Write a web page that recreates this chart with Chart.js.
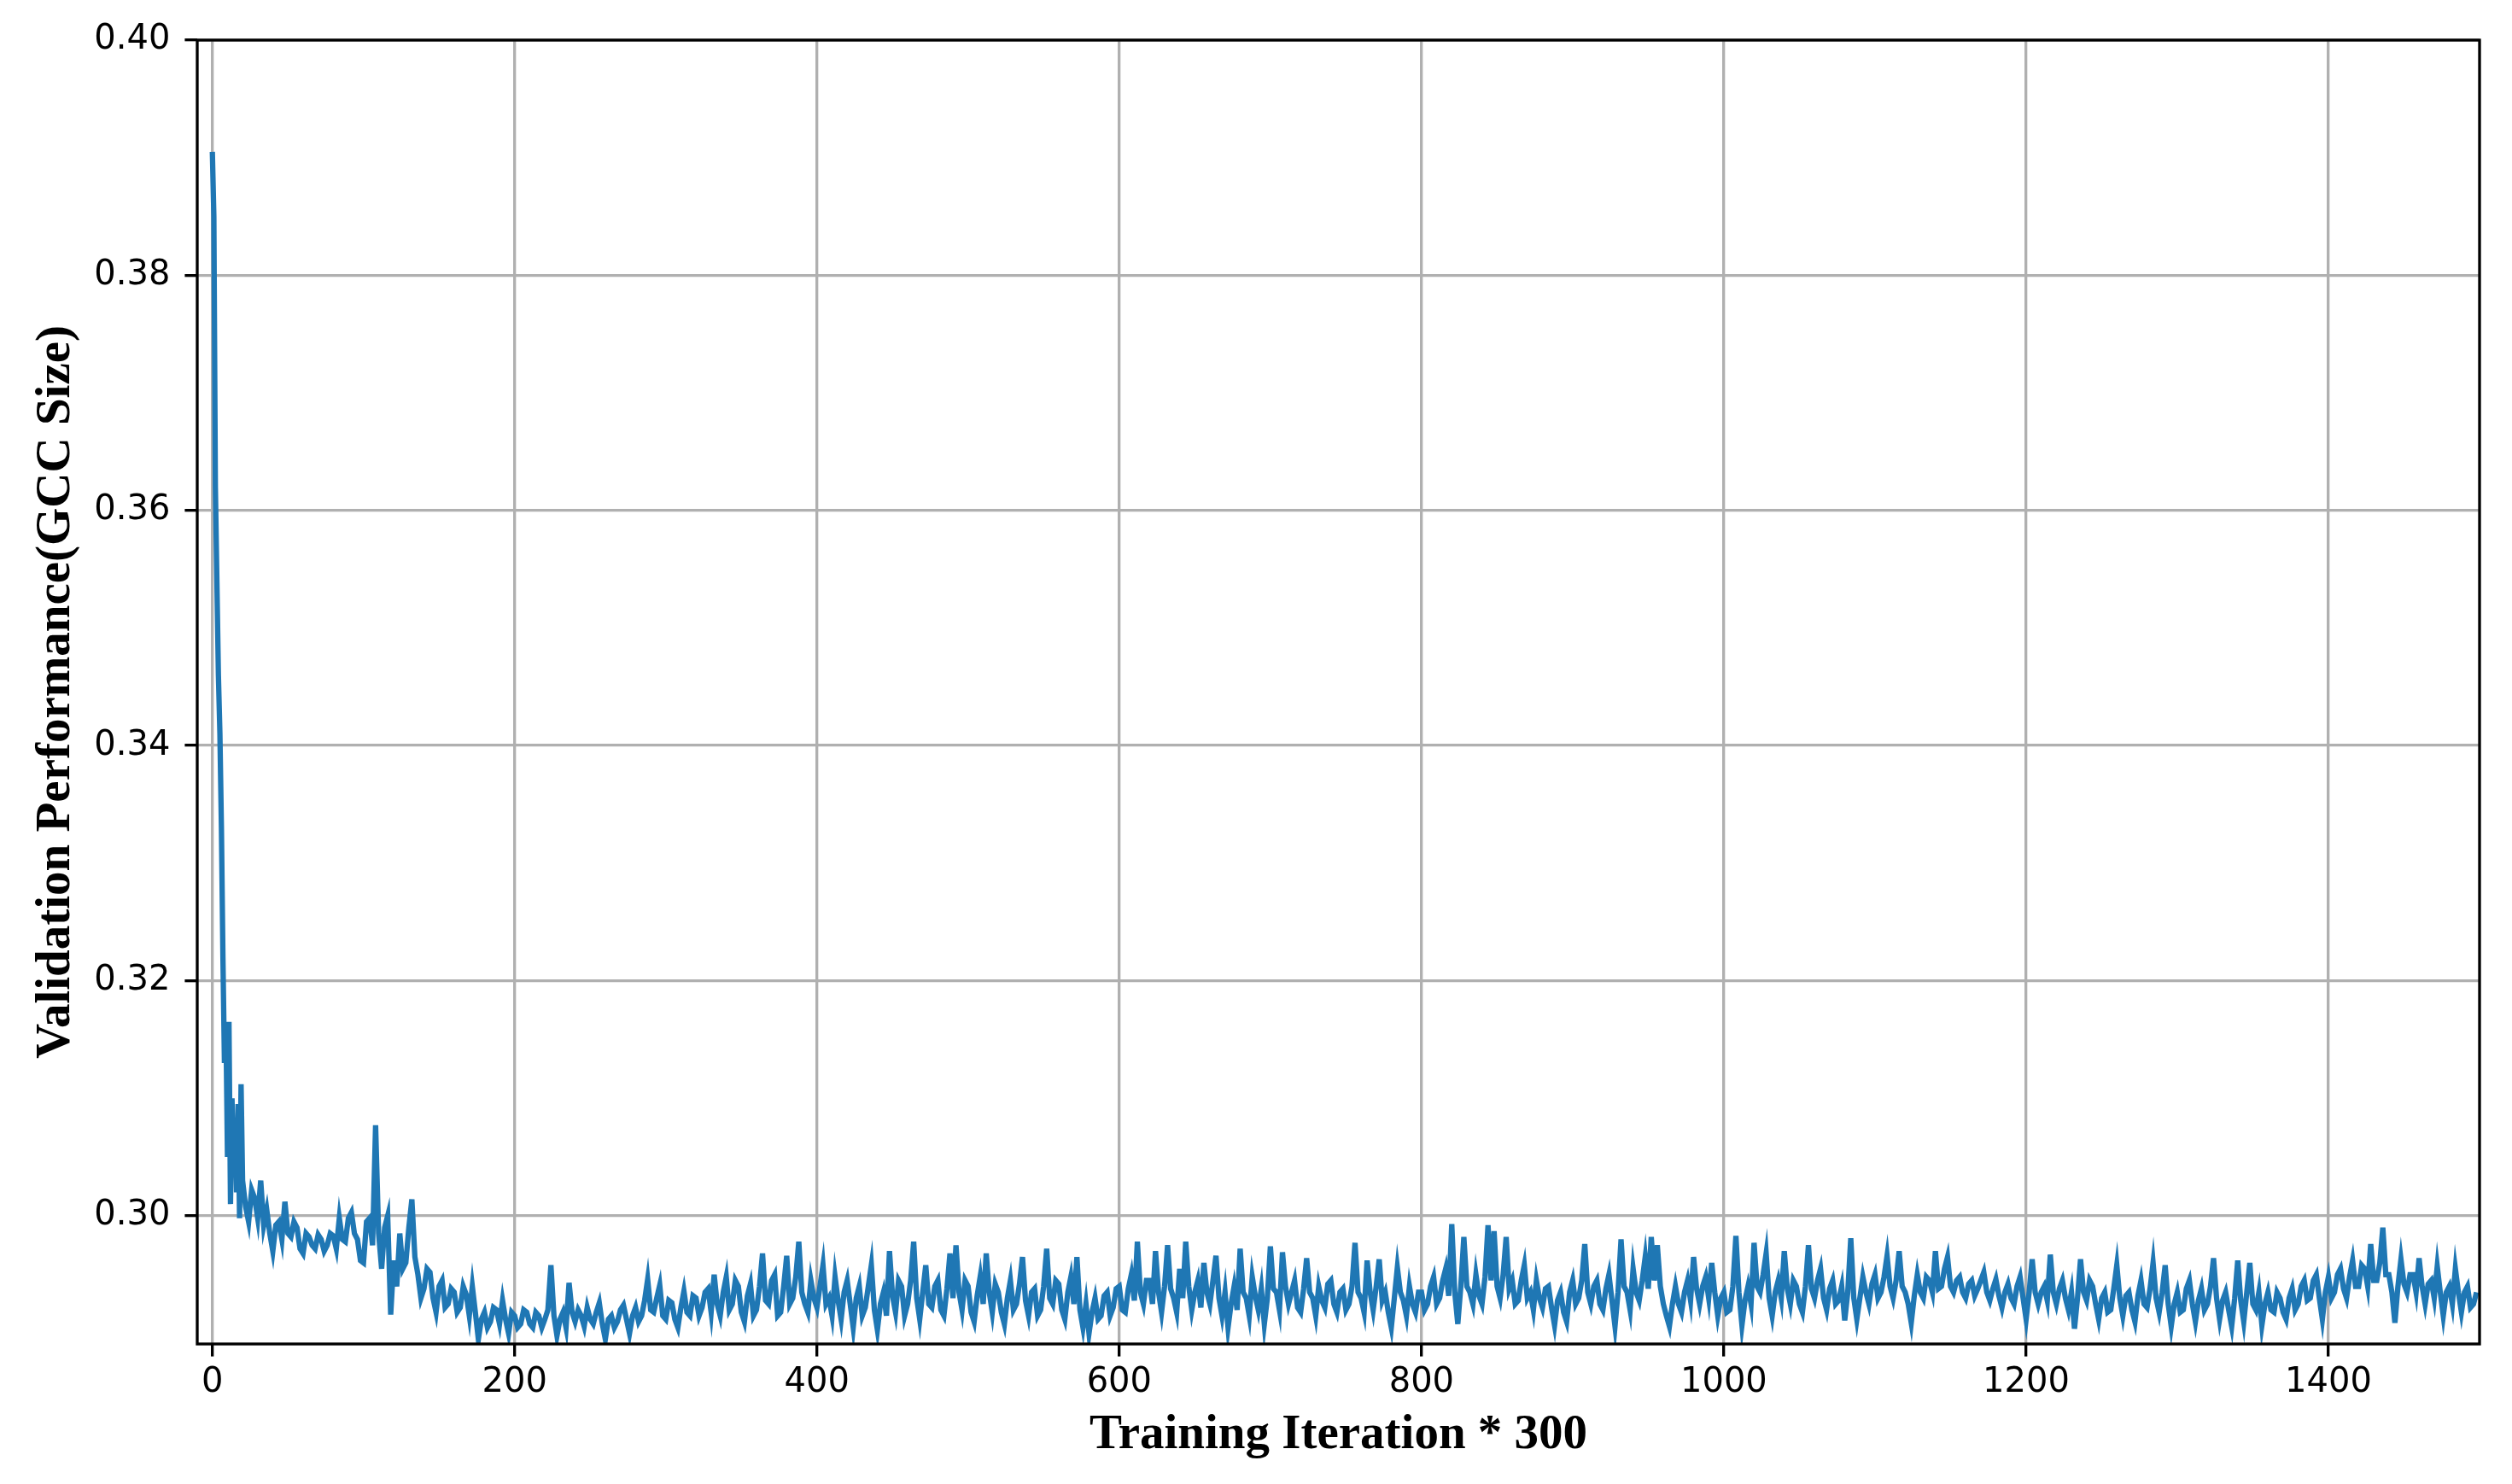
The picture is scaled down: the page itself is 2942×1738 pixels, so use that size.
<!DOCTYPE html>
<html>
<head>
<meta charset="utf-8">
<script src="https://cdn.jsdelivr.net/npm/chart.js@4"></script>
<style>
  body { margin: 0; background: #fff; }
  canvas { display: block; }
</style>
</head>
<body>
<canvas id="valChart" width="2942" height="1738"></canvas>
<script>
// first iterations, one point each (the steep drop)
const headIters = [0, 1, 2, 3, 4, 5, 6, 7, 8, 9, 10, 11, 12, 13, 14, 15, 16, 17, 18, 19];
const headVals = [0.3905, 0.3850, 0.3620, 0.3540, 0.3460, 0.3410, 0.3330, 0.3220, 0.3130, 0.3160,
                  0.3050, 0.3165, 0.3010, 0.3100, 0.3045, 0.3080, 0.3020, 0.3095, 0.2998, 0.3112];

// after that, one reading every 2 iterations, starting at 20
const bodyStart = 20;
const bodyStep = 2;
const bodyVals = [
  // 20 - 118
  .3030, .3008, .2995, .3022, .3015, .2998, .3030, .2992, .3005, .2985,
  .2970, .2992, .2995, .2980, .3012, .2985, .2982, .2995, .2990, .2972,
  .2968, .2985, .2982, .2975, .2972, .2984, .2980, .2970, .2975, .2985,
  .2983, .2972, .2998, .2980, .2978, .2998, .3003, .2985, .2980, .2962,
  .2960, .2995, .2998, .2975, .3077, .2985, .2955, .2990, .3000, .2916,
  // 120 - 218
  .2962, .2940, .2985, .2955, .2960, .2990, .3014, .2965, .2950, .2930,
  .2938, .2955, .2952, .2930, .2918, .2940, .2945, .2922, .2925, .2938,
  .2935, .2918, .2922, .2940, .2933, .2915, .2940, .2918, .2895, .2912,
  .2918, .2905, .2910, .2922, .2920, .2908, .2928, .2912, .2900, .2918,
  .2915, .2905, .2908, .2920, .2918, .2908, .2905, .2918, .2915, .2905,
  // 220 - 318
  .2912, .2920, .2958, .2915, .2898, .2912, .2918, .2905, .2943, .2918,
  .2910, .2920, .2915, .2906, .2922, .2912, .2908, .2918, .2926, .2908,
  .2895, .2912, .2915, .2905, .2910, .2920, .2924, .2912, .2900, .2915,
  .2922, .2910, .2915, .2928, .2946, .2920, .2918, .2930, .2941, .2915,
  .2912, .2928, .2926, .2912, .2905, .2922, .2936, .2918, .2915, .2932,
  // 320 - 418
  .2930, .2915, .2922, .2935, .2938, .2918, .2950, .2925, .2915, .2935,
  .2948, .2920, .2925, .2945, .2940, .2918, .2910, .2932, .2942, .2915,
  .2920, .2940, .2968, .2928, .2925, .2945, .2950, .2915, .2918, .2940,
  .2966, .2925, .2930, .2948, .2978, .2935, .2925, .2918, .2945, .2930,
  .2922, .2940, .2958, .2925, .2930, .2915, .2948, .2928, .2912, .2935,
  // 420 - 518
  .2945, .2925, .2905, .2930, .2940, .2915, .2922, .2940, .2958, .2920,
  .2903, .2925, .2935, .2915, .2970, .2932, .2918, .2945, .2940, .2915,
  .2925, .2945, .2978, .2930, .2912, .2935, .2958, .2925, .2922, .2940,
  .2945, .2920, .2915, .2938, .2968, .2930, .2975, .2935, .2920, .2945,
  .2940, .2918, .2910, .2932, .2948, .2925, .2968, .2935, .2918, .2942,
  // 520 - 618
  .2935, .2918, .2908, .2930, .2945, .2920, .2925, .2942, .2965, .2928,
  .2915, .2935, .2938, .2915, .2920, .2940, .2972, .2930, .2925, .2945,
  .2942, .2920, .2912, .2935, .2948, .2925, .2965, .2920, .2905, .2925,
  .2900, .2918, .2930, .2912, .2915, .2932, .2935, .2915, .2922, .2938,
  .2940, .2920, .2918, .2938, .2950, .2928, .2978, .2935, .2925, .2945,
  // 620 - 718
  .2945, .2925, .2970, .2935, .2918, .2940, .2975, .2938, .2930, .2918,
  .2955, .2930, .2978, .2940, .2920, .2935, .2945, .2922, .2960, .2935,
  .2925, .2945, .2966, .2930, .2915, .2935, .2905, .2925, .2940, .2920,
  .2972, .2935, .2930, .2915, .2948, .2932, .2920, .2938, .2908, .2930,
  .2974, .2938, .2935, .2920, .2969, .2940, .2925, .2935, .2945, .2922,
  // 720 - 818
  .2918, .2938, .2964, .2935, .2930, .2915, .2940, .2928, .2922, .2942,
  .2945, .2925, .2918, .2935, .2938, .2920, .2925, .2940, .2977, .2935,
  .2930, .2918, .2962, .2935, .2920, .2940, .2963, .2928, .2935, .2918,
  .2905, .2930, .2956, .2935, .2928, .2915, .2940, .2925, .2918, .2935,
  .2935, .2920, .2925, .2940, .2948, .2925, .2930, .2945, .2955, .2932,
  // 820 - 918
  .2993, .2935, .2908, .2940, .2982, .2940, .2935, .2925, .2950, .2932,
  .2925, .2948, .2992, .2945, .2987, .2940, .2930, .2950, .2982, .2938,
  .2945, .2925, .2928, .2945, .2958, .2930, .2935, .2920, .2945, .2930,
  .2922, .2938, .2940, .2922, .2907, .2928, .2935, .2918, .2910, .2935,
  .2945, .2925, .2930, .2945, .2976, .2935, .2925, .2940, .2945, .2925,
  // 920 - 1018
  .2920, .2938, .2950, .2928, .2906, .2935, .2980, .2940, .2935, .2920,
  .2955, .2935, .2928, .2945, .2965, .2938, .2982, .2945, .2975, .2940,
  .2925, .2915, .2906, .2925, .2940, .2925, .2918, .2935, .2945, .2928,
  .2965, .2938, .2925, .2940, .2948, .2930, .2960, .2935, .2915, .2930,
  .2935, .2918, .2920, .2940, .2983, .2935, .2907, .2928, .2940, .2925,
  // 1020 - 1118
  .2977, .2940, .2935, .2950, .2968, .2930, .2915, .2935, .2945, .2930,
  .2970, .2938, .2925, .2945, .2940, .2925, .2918, .2940, .2975, .2938,
  .2930, .2945, .2955, .2930, .2920, .2938, .2945, .2925, .2928, .2940,
  .2911, .2935, .2981, .2930, .2912, .2930, .2948, .2935, .2925, .2942,
  .2950, .2930, .2935, .2948, .2966, .2940, .2930, .2945, .2970, .2940,
  // 1120 - 1218
  .2935, .2925, .2909, .2932, .2950, .2935, .2930, .2948, .2945, .2935,
  .2970, .2938, .2940, .2955, .2965, .2940, .2935, .2945, .2948, .2935,
  .2930, .2942, .2945, .2932, .2938, .2945, .2952, .2935, .2928, .2938,
  .2946, .2932, .2922, .2935, .2942, .2930, .2925, .2940, .2948, .2930,
  .2912, .2935, .2963, .2935, .2925, .2935, .2940, .2928, .2967, .2935,
  // 1220 - 1318
  .2925, .2938, .2945, .2930, .2920, .2935, .2904, .2930, .2963, .2935,
  .2928, .2945, .2940, .2925, .2912, .2930, .2935, .2918, .2920, .2938,
  .2958, .2930, .2915, .2932, .2935, .2920, .2910, .2932, .2945, .2925,
  .2922, .2938, .2960, .2930, .2918, .2935, .2958, .2925, .2906, .2925,
  .2935, .2918, .2920, .2938, .2945, .2925, .2910, .2928, .2938, .2920,
  // 1320 - 1418
  .2925, .2940, .2964, .2930, .2912, .2928, .2935, .2920, .2906, .2930,
  .2962, .2928, .2910, .2935, .2960, .2925, .2920, .2935, .2907, .2925,
  .2935, .2920, .2918, .2935, .2930, .2918, .2912, .2930, .2938, .2920,
  .2925, .2940, .2945, .2928, .2930, .2945, .2950, .2930, .2912, .2935,
  .2948, .2930, .2935, .2950, .2955, .2938, .2930, .2948, .2962, .2940,
  // 1420 - 1498
  .2940, .2958, .2955, .2940, .2976, .2945, .2945, .2960, .2990, .2950,
  .2950, .2935, .2909, .2940, .2963, .2942, .2935, .2950, .2950, .2935,
  .2964, .2940, .2925, .2942, .2945, .2930, .2957, .2935, .2915, .2935,
  .2940, .2925, .2955, .2935, .2918, .2935, .2940, .2922, .2925, .2935
];

const xTicks = [0, 200, 400, 600, 800, 1000, 1200, 1400];
const yTicks = [0.30, 0.32, 0.34, 0.36, 0.38, 0.40];

const points = [];
headIters.forEach((it, i) => points.push({ x: it, y: headVals[i] }));
bodyVals.forEach((v, i) => points.push({ x: bodyStart + i * bodyStep, y: v }));

const lw = 3.33; // 0.8pt at 300dpi

// matplotlib style box around the axes
const boxPlugin = {
  id: 'box',
  afterDatasetsDraw(chart) {
    const { ctx, chartArea: a } = chart;
    ctx.save();
    ctx.strokeStyle = '#000';
    ctx.lineWidth = lw;
    ctx.strokeRect(a.left, a.top, a.right - a.left, a.bottom - a.top);
    ctx.restore();
  }
};

const tickFont = { family: 'DejaVu Sans', size: 40 };
const titleFont = { family: 'Liberation Serif', size: 57, weight: 'bold' };

new Chart(document.getElementById('valChart'), {
  type: 'line',
  data: {
    datasets: [{
      data: points,
      borderColor: '#1f77b4',
      borderWidth: 6.25,
      pointRadius: 0,
      fill: false,
      tension: 0
    }]
  },
  options: {
    responsive: false,
    animation: false,
    layout: { padding: { top: 47, right: 38, left: 0, bottom: 0 } },
    plugins: { legend: { display: false }, tooltip: { enabled: false } },
    scales: {
      x: {
        type: 'linear',
        min: -10,
        max: 1500,
        afterBuildTicks: s => { s.ticks = xTicks.map(v => ({ value: v })); },
        afterFit: s => { s.height = 164; },
        grid: { color: '#b0b0b0', lineWidth: lw, tickColor: '#000', tickWidth: lw, tickLength: 14.6 },
        border: { display: false },
        ticks: { color: '#000', font: tickFont, padding: 7, maxRotation: 0, callback: v => String(v) },
        title: { display: true, text: 'Training Iteration * 300', color: '#000', font: titleFont, padding: { top: 0, bottom: 23 } }
      },
      y: {
        type: 'linear',
        min: 0.2891,
        max: 0.40,
        afterBuildTicks: s => { s.ticks = yTicks.map(v => ({ value: v })); },
        afterFit: s => { s.width = 231; },
        grid: { color: '#b0b0b0', lineWidth: lw, tickColor: '#000', tickWidth: lw, tickLength: 14.6 },
        border: { display: false },
        ticks: { color: '#000', font: tickFont, padding: 17, callback: v => v.toFixed(2) },
        title: { display: true, text: 'Validation Performance(GCC Size)', color: '#000', font: titleFont, padding: { top: 32, bottom: 0 } }
      }
    }
  },
  plugins: [boxPlugin]
});
</script>
</body>
</html>
